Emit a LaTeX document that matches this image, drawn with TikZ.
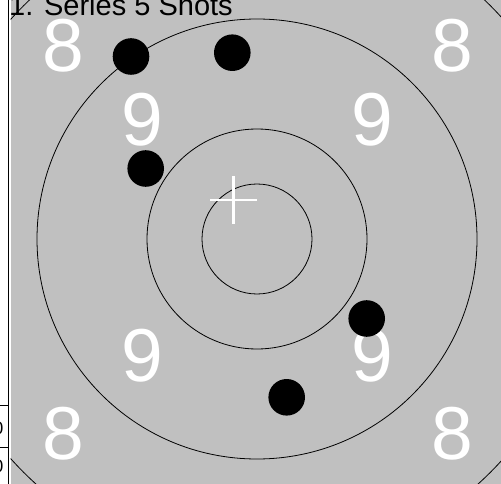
\documentclass[tikz,border=0pt]{standalone}
\usepackage{fontspec}
\setmainfont{Liberation Sans}
\definecolor{targetgray}{RGB}{192,192,192}

\begin{document}
\begin{tikzpicture}[x=1pt, y=-1pt,
    ringnum/.style={font=\fontsize{75}{80}\selectfont, text=white, inner sep=0pt},
    cellnum/.style={font=\fontsize{18}{20}\selectfont, anchor=east, inner sep=0pt},
    rule/.style={black, line width=0.9pt}]
  \def\cx{257} \def\cy{239}
  \useasboundingbox (0,0) rectangle (501,484);

  % target face
  \begin{scope}
    \clip (10.5,0) rectangle (501,484);
    \fill[targetgray] (10.5,0) rectangle (501,484);
    \foreach \r in {55,110,220,330} { \draw[black, line width=0.8pt] (\cx,\cy) circle (\r); }
  \end{scope}
  \draw[rule] (8.5,0) -- (8.5,484);

  % ring numbers
  \node[ringnum] (eightTL) at (63,46) {8};
  \node[ringnum] (eightTR) at (452,46) {8};
  \node[ringnum] (eightBL) at (63,434) {8};
  \node[ringnum] (eightBR) at (452,434) {8};
  \node[ringnum] (nineTL) at (142.5,120) {9};
  \node[ringnum] (nineTR) at (372,120) {9};
  \node[ringnum] (nineBL) at (142.5,356) {9};
  \node[ringnum] (nineBR) at (372,356) {9};

  % aim cross
  \draw[white, line width=2.6pt] (210,200) -- (256.5,200);
  \draw[white, line width=2.6pt] (233.3,176.5) -- (233.3,223.5);

  % shots
  \foreach \sx/\sy in {131/56.5, 232.3/52.7, 145.7/168.5, 366.7/318.5, 286.7/397.3} {
    \fill[black] (\sx,\sy) circle (18.3);
  }

  % title
  \node[font=\fontsize{29}{32}\selectfont, anchor=base west, inner sep=0pt] (title) at (9,16) {1. Series 5 Shots};

  % score cells (cut off)
  \draw[rule] (0,405) -- (8.5,405);
  \draw[rule] (0,447) -- (8.5,447);
  \node[cellnum] (cellA) at (3.5,428.5) {0};
  \node[cellnum] (cellB) at (3.5,466.5) {0};
\end{tikzpicture}
\end{document}
